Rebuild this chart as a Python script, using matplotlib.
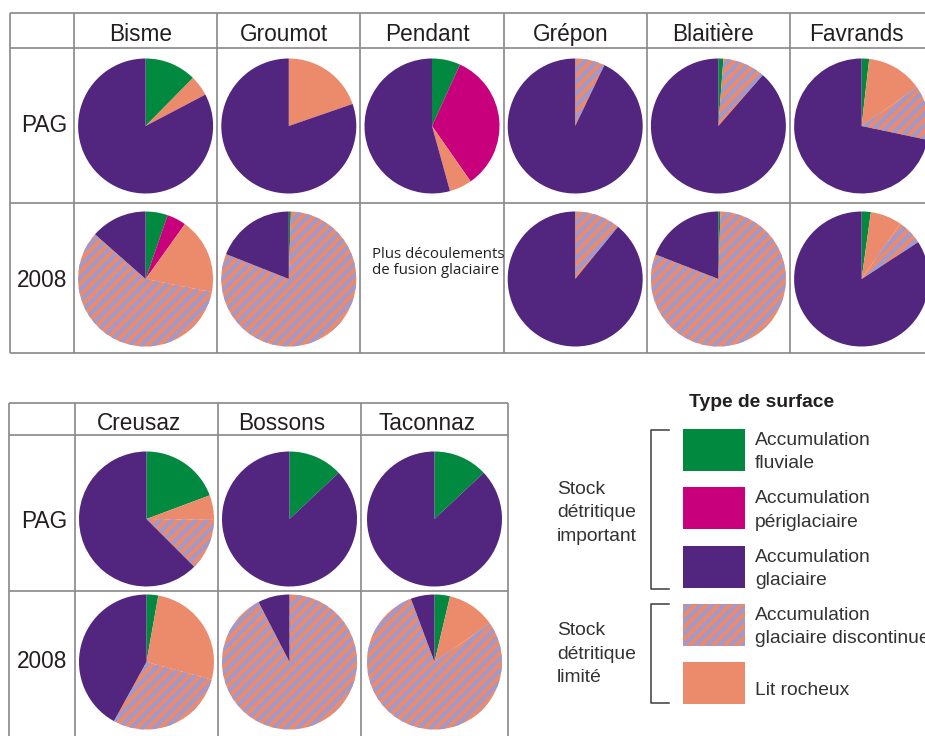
import matplotlib
matplotlib.use("Agg")
import numpy as np
import matplotlib.pyplot as plt
from matplotlib.patches import Rectangle
from matplotlib.collections import LineCollection

# --- data (percent of surface, clockwise from 12 o'clock) ---
# order: fluviale, periglaciaire, lit rocheux, glaciaire discontinue, glaciaire
top_glaciers = ['Bisme', 'Groumot', 'Pendant', 'Grépon', 'Blaitière', 'Favrands']
top_pag = [[12.4, 0, 4.9, 0, 82.7],
           [0, 0, 19.7, 0, 80.3],
           [6.8, 33.5, 5.4, 0, 54.3],
           [0, 0, 0, 7.1, 92.9],
           [1.2, 0, 0, 10.2, 88.6],
           [1.8, 0, 13.5, 13.0, 71.7]]
top_2008 = [[5.3, 4.6, 18.2, 58.4, 13.5],
            [0.5, 0, 0, 80.5, 19.0],
            None,
            [0, 0, 0, 10.9, 89.1],
            [0.5, 0, 0, 80.4, 19.1],
            [2.2, 0, 7.5, 6.1, 84.2]]

bottom_glaciers = ['Creusaz', 'Bossons', 'Taconnaz']
bottom_pag = [[19.3, 0, 5.9, 12.3, 62.5],
              [13.0, 0, 0, 0, 87.0],
              [13.0, 0, 0, 0, 87.0]]
bottom_2008 = [[2.8, 0, 26.4, 28.8, 42.0],
               [0, 0, 0, 92.4, 7.6],
               [3.7, 0, 11.6, 79.0, 5.7]]

row_labels = ['PAG', '2008']
missing_note = ['Plus découlements', 'de fusion glaciaire']

legend_title = 'Type de surface'
legend_labels = [['Accumulation', 'fluviale'],
                 ['Accumulation', 'périglaciaire'],
                 ['Accumulation', 'glaciaire'],
                 ['Accumulation', 'glaciaire discontinue'],
                 ['Lit rocheux']]
legend_kind = [0, 1, 4, 3, 2]  # index into the pie category order
group_labels = [['Stock', 'détritique', 'important'],
                ['Stock', 'détritique', 'limité']]

# --- style ---
GREEN = '#00893f'
MAGENTA = '#c8007c'
PURPLE = '#52257f'
SALMON = '#eb8b6c'
LAVENDER = '#9e99cf'
pie_colors = [GREEN, MAGENTA, SALMON, SALMON, PURPLE]
striped = [False, False, False, True, False]
GRID = '#8a8a8a'
TXT = '#231f20'
STRIPE_PX = 11.7   # horizontal period of the diagonal stripes, in pixels
STRIPE_W = 4.0     # stripe width, in pixels

W, H, DPI = 925, 736, 70
plt.rcParams['font.family'] = ['Liberation Sans', 'DejaVu Sans']


def pt(px):
    return px * 72 / DPI


def add_stripes(ax, patch, period, span, flip=False):
    # diagonal lavender stripes (lower-left to upper-right on screen), clipped to the patch
    cx, cy, half = span
    offs = np.arange(-2 * half, 2 * half + period, period)
    sgn = -1 if flip else 1
    segs = [[(cx + o - half, cy - sgn * half), (cx + o + half, cy + sgn * half)] for o in offs]
    lc = LineCollection(segs, colors=LAVENDER, linewidths=pt(STRIPE_W), capstyle='butt')
    ax.add_collection(lc)
    lc.set_clip_path(patch)


fig = plt.figure(figsize=(W / DPI, H / DPI), dpi=DPI)
bg = fig.add_axes([0, 0, 1, 1])
bg.set_xlim(0, W)
bg.set_ylim(H, 0)
bg.axis('off')


def add_pie(cx, cy, values, r=67.5):
    ax = fig.add_axes([(cx - r) / W, 1 - (cy + r) / H, 2 * r / W, 2 * r / H])
    wedges, _ = ax.pie(values, colors=pie_colors, startangle=90, counterclock=False,
                       wedgeprops={'linewidth': 0})
    for w, s in zip(wedges, striped):
        if s:
            add_stripes(ax, w, STRIPE_PX / r, (0, 0, 1.1))
    ax.set_xlim(-1, 1)
    ax.set_ylim(-1, 1)
    ax.set_aspect('equal')
    ax.axis('off')


def draw_table(xs, ys, names, rows, pie_y, label_y, head_y, head_dx):
    for x in xs:
        bg.plot([x, x], [ys[0], ys[-1]], color=GRID, lw=pt(1.7), solid_capstyle='butt')
    for y in ys:
        bg.plot([xs[0], xs[-1]], [y, y], color=GRID, lw=pt(1.7), solid_capstyle='butt')
    for j, lab in enumerate(row_labels):
        bg.text(67, label_y[j], lab, ha='right', va='baseline', fontsize=pt(22.6), color=TXT)
    for i, name in enumerate(names):
        cx = (xs[i + 1] + xs[i + 2]) / 2
        bg.text(cx + head_dx, head_y, name, ha='center', va='baseline', fontsize=pt(22.6), color=TXT)
        for j, row in enumerate(rows):
            if row[i] is None:
                for k, line in enumerate(missing_note):
                    bg.text(xs[i + 1] + 12, 258 + 16 * k, line, ha='left', va='baseline',
                            fontsize=pt(15), family=['Open Sans', 'DejaVu Sans'], color=TXT)
            else:
                add_pie(cx, pie_y[j], row[i])


draw_table([10, 74, 217.2, 360.4, 503.6, 646.8, 790, 933.2], [13, 48, 203, 353],
           top_glaciers, [top_pag, top_2008], [126, 279], [132.5, 287], 41, -5)
draw_table([9, 75, 218, 361, 508], [403, 435, 591, 747],
           bottom_glaciers, [bottom_pag, bottom_2008], [519, 662], [527.5, 668], 430, -7.5)

# --- legend ---
bg.text(762, 407, legend_title, ha='center', va='baseline', fontsize=pt(19.3),
        fontweight='bold', color=TXT)
for i, lines in enumerate(legend_labels):
    top = 429 + 58.3 * i
    kind = legend_kind[i]
    sw = bg.add_patch(Rectangle((683, top), 62, 42, facecolor=pie_colors[kind], linewidth=0))
    if striped[kind]:
        add_stripes(bg, sw, STRIPE_PX, (714, top + 21, 40), flip=True)
    if len(lines) == 2:
        bases = [top + 16, top + 39.5]
    else:
        bases = [top + 33]
    for b, line in zip(bases, lines):
        bg.text(755, b, line, ha='left', va='baseline', fontsize=pt(19.3), color='#333333')

for (y0, y1), lines, base in zip([(430, 589), (604, 703)], group_labels, [493.5, 635]):
    bg.plot([669, 651, 651, 669], [y0, y0, y1, y1], color='#444444', lw=pt(1.6))
    for k, line in enumerate(lines):
        bg.text(557, base + 23.7 * k, line, ha='left', va='baseline', fontsize=pt(19.3), color='#333333')

fig.savefig('out.png', dpi=DPI)
